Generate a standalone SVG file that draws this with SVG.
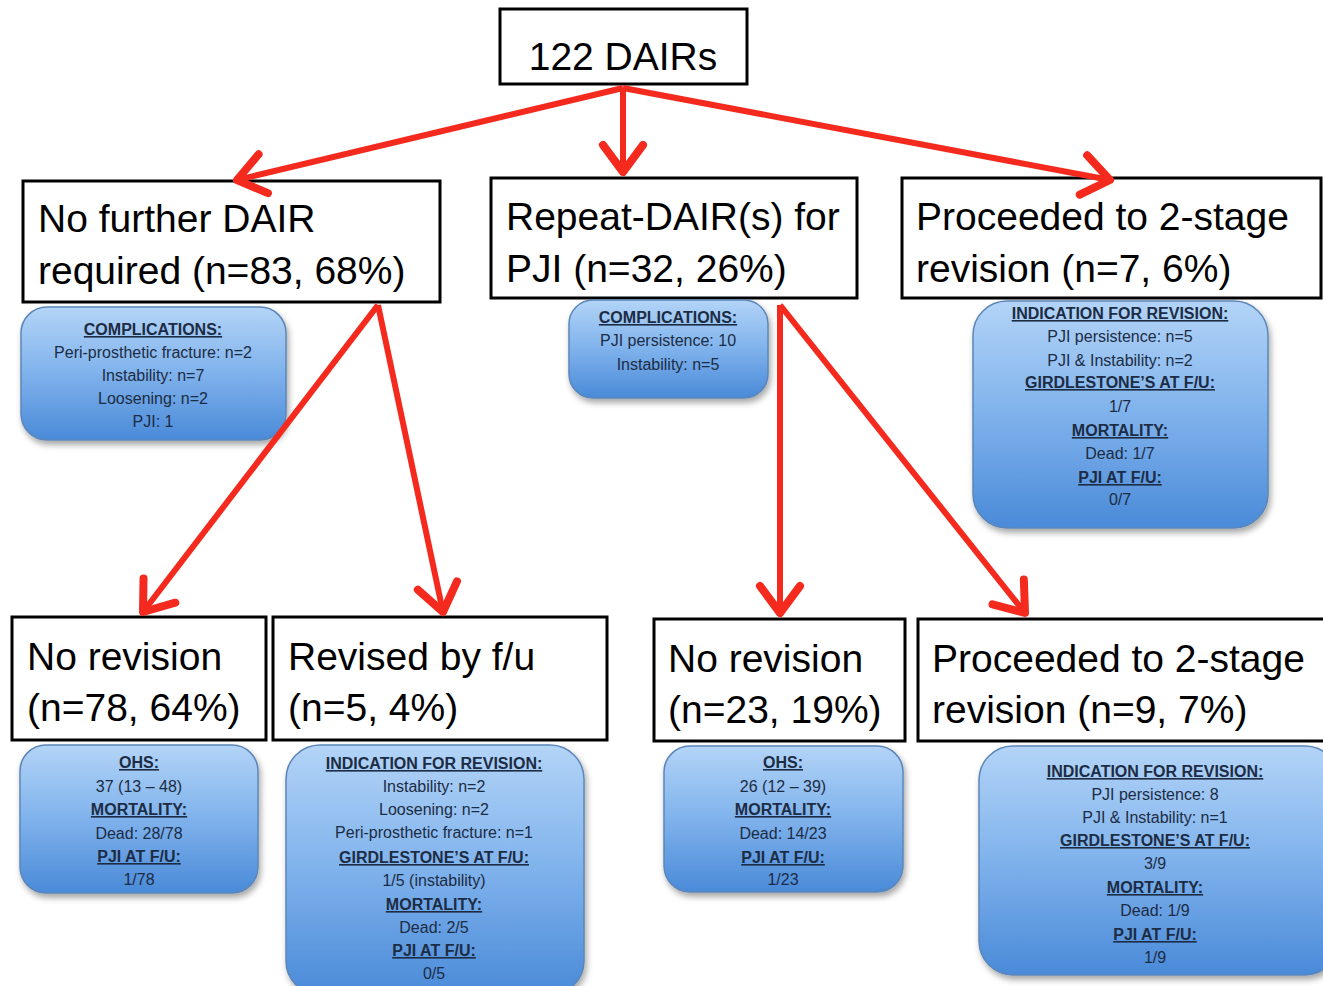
<svg xmlns="http://www.w3.org/2000/svg" width="1323" height="986" viewBox="0 0 1323 986">
<defs>
<linearGradient id="blue" x1="0" y1="0" x2="0" y2="1">
<stop offset="0" stop-color="#b3d4f7"/>
<stop offset="0.5" stop-color="#7fb2ec"/>
<stop offset="1" stop-color="#4a8ad8"/>
</linearGradient>
<filter id="sh" x="-10%" y="-10%" width="130%" height="130%">
<feDropShadow dx="2" dy="4" stdDeviation="3" flood-color="#000" flood-opacity="0.35"/>
</filter>
<marker id="ah" markerUnits="userSpaceOnUse" markerWidth="60" markerHeight="60" viewBox="-40 -30 50 60" refX="0" refY="0" orient="auto" overflow="visible">
<path d="M-27,-20 L0,0 L-27,20" fill="none" stroke="#f52a1e" stroke-width="8" stroke-linecap="round" stroke-linejoin="round"/>
</marker>
</defs>
<style>
.box{fill:#fff;stroke:#000;stroke-width:3}
.big{font-family:"Liberation Sans",Arial,sans-serif;font-size:39px;fill:#000}
.info{fill:url(#blue);stroke:#5c86b8;stroke-width:1.5;filter:url(#sh)}
.t{font-family:"Liberation Sans",Arial,sans-serif;font-size:16px;fill:#1c2c44;text-anchor:middle}
.h{font-weight:bold;text-decoration:underline}
.c{fill:none;stroke:#f52a1e;stroke-width:6;marker-end:url(#ah)}
</style>

<g id="n-root">
<rect class="box" x="500" y="9" width="247" height="75"/>
<text class="big" x="623" y="70" text-anchor="middle" font-size="50">122 DAIRs</text>
</g>

<g id="n-nofurther">
<rect class="box" x="23" y="181" width="417" height="121"/>
<text class="big" x="38" y="232">No further DAIR</text>
<text class="big" x="38" y="284">required (n=83, 68%)</text>
</g>
<g id="i-nofurther">
<rect class="info" x="21" y="307" width="265" height="133" rx="26"/>
<text class="t h" x="153" y="335">COMPLICATIONS:</text>
<text class="t" x="153" y="358">Peri-prosthetic fracture: n=2</text>
<text class="t" x="153" y="381">Instability: n=7</text>
<text class="t" x="153" y="404">Loosening: n=2</text>
<text class="t" x="153" y="427">PJI: 1</text>
</g>

<g id="n-repeat">
<rect class="box" x="491" y="178" width="366" height="120"/>
<text class="big" x="506" y="230">Repeat-DAIR(s) for</text>
<text class="big" x="506" y="282">PJI (n=32, 26%)</text>
</g>
<g id="i-repeat">
<rect class="info" x="569" y="300" width="199" height="98" rx="24"/>
<text class="t h" x="668" y="323">COMPLICATIONS:</text>
<text class="t" x="668" y="346">PJI persistence: 10</text>
<text class="t" x="668" y="370">Instability: n=5</text>
</g>

<g id="n-twostage1">
<rect class="box" x="902" y="178" width="419" height="120"/>
<text class="big" x="916" y="230">Proceeded to 2-stage</text>
<text class="big" x="916" y="282">revision (n=7, 6%)</text>
</g>
<g id="i-twostage1">
<rect class="info" x="973" y="301" width="295" height="227" rx="34"/>
<text class="t h" x="1120" y="319">INDICATION FOR REVISION:</text>
<text class="t" x="1120" y="342">PJI persistence: n=5</text>
<text class="t" x="1120" y="366">PJI &amp; Instability: n=2</text>
<text class="t h" x="1120" y="388">GIRDLESTONE’S AT F/U:</text>
<text class="t" x="1120" y="412">1/7</text>
<text class="t h" x="1120" y="436">MORTALITY:</text>
<text class="t" x="1120" y="459">Dead: 1/7</text>
<text class="t h" x="1120" y="483">PJI AT F/U:</text>
<text class="t" x="1120" y="505">0/7</text>
</g>

<g id="n-norev1">
<rect class="box" x="12" y="617" width="254" height="123"/>
<text class="big" x="27" y="670">No revision</text>
<text class="big" x="27" y="721">(n=78, 64%)</text>
</g>
<g id="i-norev1">
<rect class="info" x="20" y="745" width="238" height="148" rx="26"/>
<text class="t h" x="139" y="768">OHS:</text>
<text class="t" x="139" y="792">37 (13 – 48)</text>
<text class="t h" x="139" y="815">MORTALITY:</text>
<text class="t" x="139" y="839">Dead: 28/78</text>
<text class="t h" x="139" y="862">PJI AT F/U:</text>
<text class="t" x="139" y="885">1/78</text>
</g>

<g id="n-revised">
<rect class="box" x="273" y="617" width="334" height="123"/>
<text class="big" x="288" y="670">Revised by f/u</text>
<text class="big" x="288" y="721">(n=5, 4%)</text>
</g>
<g id="i-revised">
<rect class="info" x="286" y="745" width="298" height="250" rx="34"/>
<text class="t h" x="434" y="769">INDICATION FOR REVISION:</text>
<text class="t" x="434" y="792">Instability: n=2</text>
<text class="t" x="434" y="815">Loosening: n=2</text>
<text class="t" x="434" y="838">Peri-prosthetic fracture: n=1</text>
<text class="t h" x="434" y="863">GIRDLESTONE’S AT F/U:</text>
<text class="t" x="434" y="886">1/5 (instability)</text>
<text class="t h" x="434" y="910">MORTALITY:</text>
<text class="t" x="434" y="933">Dead: 2/5</text>
<text class="t h" x="434" y="956">PJI AT F/U:</text>
<text class="t" x="434" y="979">0/5</text>
</g>

<g id="n-norev2">
<rect class="box" x="654" y="619" width="251" height="122"/>
<text class="big" x="668" y="672">No revision</text>
<text class="big" x="668" y="723">(n=23, 19%)</text>
</g>
<g id="i-norev2">
<rect class="info" x="664" y="746" width="239" height="146" rx="26"/>
<text class="t h" x="783" y="768">OHS:</text>
<text class="t" x="783" y="792">26 (12 – 39)</text>
<text class="t h" x="783" y="815">MORTALITY:</text>
<text class="t" x="783" y="839">Dead: 14/23</text>
<text class="t h" x="783" y="863">PJI AT F/U:</text>
<text class="t" x="783" y="885">1/23</text>
</g>

<g id="n-twostage2">
<rect class="box" x="918" y="619" width="410" height="122"/>
<text class="big" x="932" y="672">Proceeded to 2-stage</text>
<text class="big" x="932" y="723">revision (n=9, 7%)</text>
</g>
<g id="i-twostage2">
<rect class="info" x="979" y="746" width="360" height="229" rx="34"/>
<text class="t h" x="1155" y="777">INDICATION FOR REVISION:</text>
<text class="t" x="1155" y="800">PJI persistence: 8</text>
<text class="t" x="1155" y="823">PJI &amp; Instability: n=1</text>
<text class="t h" x="1155" y="846">GIRDLESTONE’S AT F/U:</text>
<text class="t" x="1155" y="869">3/9</text>
<text class="t h" x="1155" y="893">MORTALITY:</text>
<text class="t" x="1155" y="916">Dead: 1/9</text>
<text class="t h" x="1155" y="940">PJI AT F/U:</text>
<text class="t" x="1155" y="963">1/9</text>
</g>

<g id="connectors">
<line class="c" x1="623" y1="88" x2="237" y2="180"/>
<line class="c" x1="623" y1="88" x2="623" y2="172"/>
<line class="c" x1="623" y1="88" x2="1110" y2="180"/>
<line class="c" x1="378" y1="305" x2="143" y2="612"/>
<line class="c" x1="378" y1="305" x2="443" y2="612"/>
<line class="c" x1="780" y1="305" x2="780" y2="613"/>
<line class="c" x1="780" y1="305" x2="1025" y2="613"/>
</g>
</svg>
